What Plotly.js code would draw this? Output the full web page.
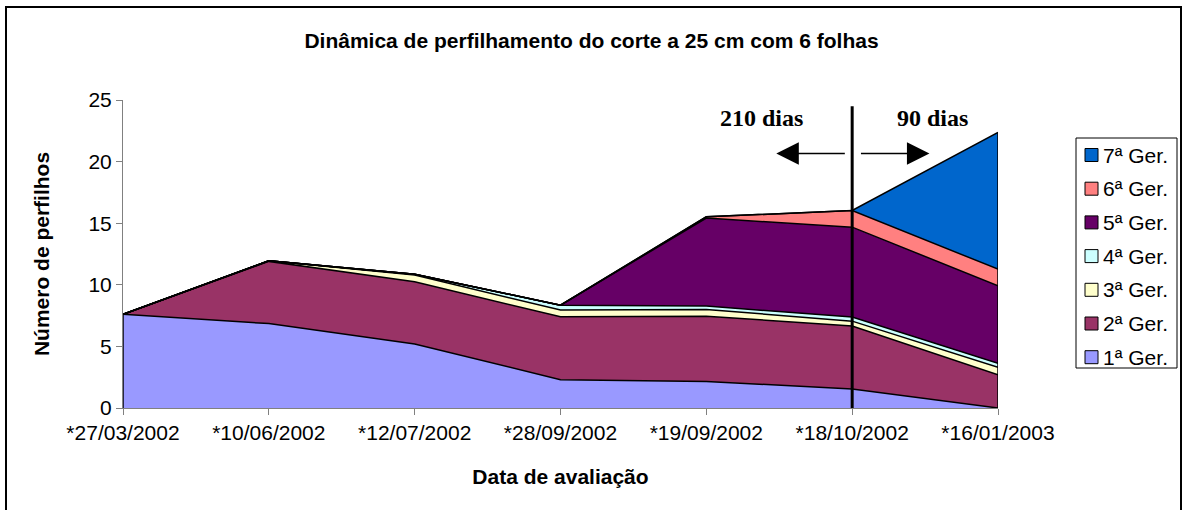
<!DOCTYPE html>
<html>
<head>
<meta charset="utf-8">
<script src="https://cdn.plot.ly/plotly-3.0.1.min.js"></script>
<style>html,body{margin:0;padding:0;background:#fff;}#chart{width:1183px;height:510px;}</style>
</head>
<body>
<div id="chart"></div>
<script>
// ---- data ----
const categories = ["*27/03/2002","*10/06/2002","*12/07/2002","*28/09/2002","*19/09/2002","*18/10/2002","*16/01/2003"];
const gen1 = [7.6, 6.85, 5.2, 2.3, 2.15, 1.55, 0];
const gen2 = [0, 5.05, 5.05, 5.1, 5.3, 5.1, 2.7];
const gen3 = [0, 0.05, 0.55, 0.55, 0.55, 0.4, 0.6];
const gen4 = [0, 0, 0.05, 0.4, 0.27, 0.33, 0.32];
const gen5 = [0, 0, 0, 0, 7.15, 7.3, 6.3];
const gen6 = [0, 0, 0, 0, 0.1, 1.35, 1.35];
const gen7 = [0, 0, 0, 0, 0, 0, 11.1];
const seriesNames = ["1ª Ger.","2ª Ger.","3ª Ger.","4ª Ger.","5ª Ger.","6ª Ger.","7ª Ger."];
const seriesValues = [gen1, gen2, gen3, gen4, gen5, gen6, gen7];
const colors = ["#9999FF","#993366","#FFFFCC","#CCFFFF","#660066","#FF8080","#0066CC"];
const yTicks = [0, 5, 10, 15, 20, 25];
const cutIndex = 5;
const leftLabel = "210 dias";
const rightLabel = "90 dias";

// ---- layout geometry ----
const W = 1183, H = 510;
const M = {l: 123, r: 185, t: 100, b: 102};
const pw = W - M.l - M.r, ph = H - M.t - M.b;
const px = v => (v - M.l) / pw;          // pixel x -> paper x
const py = v => (H - M.b - v) / ph;      // pixel y -> paper y

const font = "Liberation Sans, Arial, sans-serif";

const traces = seriesValues.map((vals, i) => ({
  type: "scatter",
  mode: "lines",
  x: categories,
  y: vals,
  name: seriesNames[i],
  stackgroup: "one",
  fillcolor: colors[i],
  line: {color: "#000", width: 1.5},
  showlegend: false,
  hoverinfo: "x+y+name"
}));

const shapes = [];
const annotations = [];

// outer chart border
shapes.push({type: "rect", xref: "paper", yref: "paper",
  x0: px(6), x1: px(1181), y0: py(520), y1: py(7),
  line: {color: "#000", width: 2}, fillcolor: "rgba(0,0,0,0)", layer: "below"});

// side edges of the stacked area (from data totals)
const total = categories.map((_, j) => seriesValues.reduce((s, a) => s + a[j], 0));
const last = categories.length - 1;
shapes.push({type: "line", xref: "x", yref: "y", x0: 0, x1: 0, y0: 0, y1: total[0],
  line: {color: "#000", width: 1.5}});
shapes.push({type: "line", xref: "x", yref: "y", x0: last, x1: last, y0: 0, y1: total[last],
  line: {color: "#000", width: 1.5}});

// vertical cut line
shapes.push({type: "line", xref: "x", yref: "y",
  x0: cutIndex, x1: cutIndex, y0: -0.8, y1: 24.5,
  line: {color: "#000", width: 3}});

// arrows
annotations.push({xref: "x", yref: "y", axref: "x", ayref: "y",
  x: cutIndex - 0.52, y: 20.65, ax: cutIndex - 0.04, ay: 20.65,
  text: "", showarrow: true, arrowhead: 2, arrowsize: 3, arrowwidth: 1.5, arrowcolor: "#000"});
annotations.push({xref: "x", yref: "y", axref: "x", ayref: "y",
  x: cutIndex + 0.53, y: 20.65, ax: cutIndex + 0.05, ay: 20.65,
  text: "", showarrow: true, arrowhead: 2, arrowsize: 3, arrowwidth: 1.5, arrowcolor: "#000"});
annotations.push({xref: "x", yref: "y", x: cutIndex - 0.62, y: 23.5, text: "<b>" + leftLabel + "</b>",
  showarrow: false, font: {family: "Liberation Serif, Times New Roman, serif", size: 24, color: "#000"}});
annotations.push({xref: "x", yref: "y", x: cutIndex + 0.55, y: 23.5, text: "<b>" + rightLabel + "</b>",
  showarrow: false, font: {family: "Liberation Serif, Times New Roman, serif", size: 24, color: "#000"}});

// custom legend
shapes.push({type: "rect", xref: "paper", yref: "paper",
  x0: px(1076), x1: px(1177), y0: py(368), y1: py(138),
  line: {color: "#000", width: 1}, fillcolor: "#fff"});
for (let k = 0; k < seriesNames.length; k++) {
  const i = seriesNames.length - 1 - k;
  const cy = 155 + k * 33.7;
  shapes.push({type: "rect", xref: "paper", yref: "paper",
    x0: px(1085), x1: px(1098), y0: py(cy + 6.5), y1: py(cy - 6.5),
    line: {color: "#000", width: 1}, fillcolor: colors[i]});
  annotations.push({xref: "paper", yref: "paper", x: px(1101), y: py(cy),
    xanchor: "left", yanchor: "middle", text: seriesNames[i], showarrow: false,
    font: {family: font, size: 21, color: "#000"}});
}

const layout = {
  width: W, height: H,
  margin: M,
  paper_bgcolor: "#fff", plot_bgcolor: "#fff",
  font: {family: font, size: 21, color: "#000"},
  title: {text: "<b>Dinâmica de perfilhamento do corte a 25 cm com 6 folhas</b>",
    font: {family: font, size: 21, color: "#000"},
    x: 0.5, xanchor: "center", xref: "container", y: 1 - 41 / H, yanchor: "middle", yref: "container"},
  xaxis: {
    type: "category", range: [0, categories.length - 1],
    showgrid: false, zeroline: false,
    showline: true, linecolor: "#808080", linewidth: 1,
    ticks: "outside", ticklen: 6, tickcolor: "#808080",
    tickfont: {family: font, size: 21, color: "#000"},
    title: {text: "<b>Data de avaliação</b>", font: {family: font, size: 21, color: "#000"}, standoff: 26}
  },
  yaxis: {
    range: [0, 25], tickvals: yTicks,
    showgrid: false, zeroline: false,
    showline: true, linecolor: "#808080", linewidth: 1,
    ticks: "outside", ticklen: 6, tickcolor: "#808080",
    tickfont: {family: font, size: 21, color: "#000"},
    title: {text: "<b>Número de perfilhos</b>", font: {family: font, size: 21, color: "#000"}, standoff: 33}
  },
  shapes: shapes,
  annotations: annotations,
  showlegend: false
};

Plotly.newPlot("chart", traces, layout, {displayModeBar: false, staticPlot: true});
</script>
</body>
</html>
